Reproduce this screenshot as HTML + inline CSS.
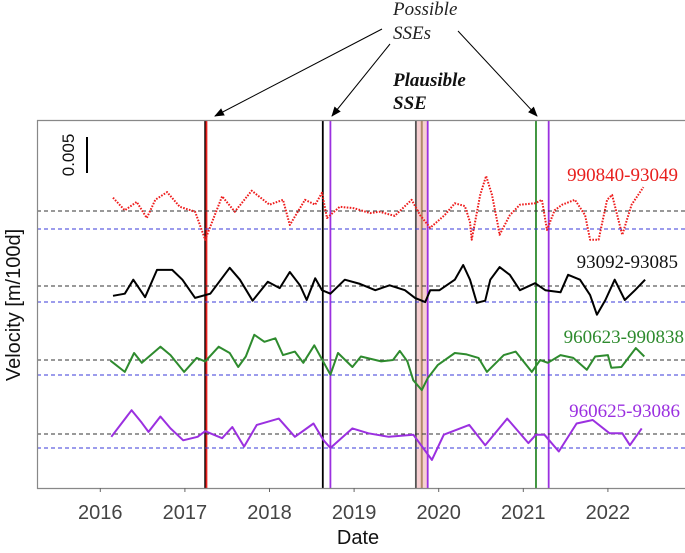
<!DOCTYPE html>
<html><head><meta charset="utf-8"><style>
html,body{margin:0;padding:0;background:#fff;}
svg{display:block;}
</style></head><body>
<svg id="chart" width="685" height="553" viewBox="0 0 685 553" xmlns="http://www.w3.org/2000/svg">
<defs><marker id="ah" markerWidth="10" markerHeight="8" refX="9" refY="4" orient="auto"><path d="M0,0 L10,4 L0,8 z" fill="#000"/></marker></defs>
<g id="vlines"></g>
<g id="plot"></g>
<line x1="37" y1="488.5" x2="685" y2="488.5" stroke="#888" stroke-width="1.2"/>
<line x1="37.5" y1="120" x2="37.5" y2="489" stroke="#888" stroke-width="1.2"/>
<line x1="37" y1="120.5" x2="685" y2="120.5" stroke="#888" stroke-width="1.2"/>
<g id="xticks"></g>
<text x="358" y="544" font-family="Liberation Sans, sans-serif" font-size="20" text-anchor="middle" fill="#111">Date</text>
<text transform="translate(20,305) rotate(-90)" font-family="Liberation Sans, sans-serif" font-size="20" text-anchor="middle" fill="#111">Velocity [m/100d]</text>
<line x1="87" y1="137" x2="87" y2="173" stroke="#000" stroke-width="2"/>
<text transform="translate(74,155) rotate(-90)" font-family="Liberation Sans, sans-serif" font-size="17" text-anchor="middle" fill="#111">0.005</text>
<text font-family="Liberation Serif, serif" font-style="italic" font-size="19" fill="#222"><tspan x="393" y="15">Possible</tspan><tspan x="393" y="39">SSEs</tspan></text>
<text font-family="Liberation Serif, serif" font-style="italic" font-weight="bold" font-size="19" fill="#111"><tspan x="393" y="86">Plausible</tspan><tspan x="393" y="109">SSE</tspan></text>
<line x1="382" y1="29" x2="215" y2="116" stroke="#000" stroke-width="1" marker-end="url(#ah)"/>
<line x1="390" y1="44" x2="332" y2="116" stroke="#000" stroke-width="1" marker-end="url(#ah)"/>
<line x1="458" y1="31" x2="537" y2="116" stroke="#000" stroke-width="1" marker-end="url(#ah)"/>
<g font-family="Liberation Serif, serif" font-size="19" text-anchor="end">
<text x="678" y="181" fill="#e8201e">990840-93049</text>
<text x="678" y="268" fill="#111">93092-93085</text>
<text x="684" y="343" fill="#2e8b2e">960623-990838</text>
<text x="680" y="417" fill="#9b30e0">960625-93086</text>
</g>
</svg>
<script>
const tickYears = [2016, 2017, 2018, 2019, 2020, 2021, 2022];
const redDates = [2016.15,2016.29,2016.43,2016.55,2016.65,2016.79,2016.94,2017.12,2017.24,2017.44,2017.59,2017.79,2018.00,2018.16,2018.24,2018.42,2018.54,2018.62,2018.68,2018.83,2019.00,2019.19,2019.30,2019.48,2019.68,2019.78,2019.90,2020.07,2020.19,2020.31,2020.37,2020.39,2020.49,2020.56,2020.63,2020.70,2020.72,2020.84,2020.96,2021.14,2021.22,2021.28,2021.37,2021.46,2021.61,2021.73,2021.79,2021.89,2021.99,2022.05,2022.14,2022.17,2022.28,2022.42];
const redValues = [1.9,0.1,1.3,-1.0,1.6,2.7,0.6,-0.1,-4.1,2.1,-0.1,2.9,0.9,1.6,-2.0,1.6,0.9,2.6,-1.0,0.6,0.4,-0.3,-0.1,-0.7,1.6,-0.6,-2.4,-0.6,1.1,0.7,-1.6,-4.1,2.3,5.0,2.3,-2.0,-3.4,-0.6,0.9,1.1,1.6,-2.7,0.1,0.9,1.6,-0.6,-4.1,-4.1,1.6,2.3,-2.0,-3.4,0.9,3.4];
const blackDates = [2016.15,2016.29,2016.39,2016.53,2016.67,2016.85,2016.97,2017.12,2017.30,2017.53,2017.65,2017.80,2017.98,2018.12,2018.24,2018.36,2018.44,2018.54,2018.62,2018.72,2018.89,2019.07,2019.25,2019.42,2019.60,2019.72,2019.84,2019.90,2020.01,2020.19,2020.29,2020.37,2020.45,2020.55,2020.61,2020.72,2020.84,2020.96,2021.14,2021.26,2021.44,2021.53,2021.67,2021.79,2021.87,2021.97,2022.08,2022.20,2022.32,2022.44];
const blackValues = [-1.4,-1.1,0.9,-1.6,2.3,2.3,0.9,-1.7,-1.1,2.6,0.9,-2.1,0.6,-0.3,2.0,0.1,-2.0,1.1,-0.6,-1.1,0.9,0.3,-0.6,0.1,-0.6,-1.7,-2.3,-0.6,-0.6,0.9,3.0,0.9,-2.4,-2.1,0.9,2.7,1.6,-0.6,0.4,-0.6,-0.9,1.6,0.9,-1.3,-4.1,-2.0,0.9,-2.0,-0.6,0.9];
const greenDates = [2016.12,2016.29,2016.40,2016.49,2016.71,2016.83,2016.99,2017.14,2017.24,2017.40,2017.53,2017.63,2017.72,2017.82,2017.94,2018.07,2018.16,2018.30,2018.40,2018.53,2018.72,2018.81,2018.98,2019.08,2019.32,2019.46,2019.54,2019.63,2019.70,2019.80,2019.87,2019.99,2020.19,2020.33,2020.47,2020.57,2020.77,2020.91,2021.10,2021.20,2021.29,2021.44,2021.59,2021.75,2021.85,2022.00,2022.04,2022.16,2022.33,2022.43];
const greenValues = [-0.1,-1.7,1.0,-0.4,1.9,0.7,-1.7,0.3,-0.2,1.9,1.0,-1.0,0.5,3.6,2.6,3.1,0.7,1.2,-0.4,2.1,-2.1,1.0,-1.0,0.5,-0.2,0,1.3,-0.2,-2.9,-4.3,-2.6,-0.7,1.0,0.8,0.3,-1.7,0.7,1.2,-1.7,0,-0.4,0.7,0.3,-1.4,0.5,0.7,-1.1,-1.0,1.7,0.5];
const purpleDates = [2016.13,2016.37,2016.49,2016.57,2016.71,2016.83,2016.98,2017.15,2017.24,2017.44,2017.56,2017.70,2017.85,2018.11,2018.30,2018.52,2018.64,2018.72,2018.98,2019.17,2019.41,2019.70,2019.92,2020.06,2020.36,2020.55,2020.81,2021.06,2021.15,2021.25,2021.42,2021.63,2021.82,2022.02,2022.17,2022.26,2022.40];
const purpleValues = [-0.4,3.4,1.6,0.3,2.5,0.8,-0.9,-0.4,0.4,-0.6,1.0,-1.8,1.3,2.2,-0.4,1.5,-0.9,-2.0,0.8,0.1,-0.4,-0.1,-3.7,-0.1,1.3,-1.6,2.2,-1.3,-0.1,-0.1,-2.5,1.5,2.0,0.1,0.1,-1.6,0.8];
const eventYears = [2017.24, 2017.255, 2018.63, 2018.72, 2019.73, 2019.87, 2021.15, 2021.30];
const eventColors = ['#000', '#e8201e', '#000', '#9b30e0', '#555', '#9b30e0', '#2e8b2e', '#9b30e0'];

const NS = 'http://www.w3.org/2000/svg';
function xs(yr){ return 100.3 + (yr - 2016) * 84.6; }
function ys(v, base){ return base - v * 7; }
function mk(tag, attrs){ const e = document.createElementNS(NS, tag); for (const k in attrs) e.setAttribute(k, attrs[k]); return e; }

const vl = document.getElementById('vlines');
const band = mk('rect', {x: xs(2019.73), y: 121, width: xs(2019.87) - xs(2019.73), height: 367, fill: '#f7cfd2'});


vl.appendChild(band);
const mid = mk('line', {x1: xs(2019.8), x2: xs(2019.8), y1: 121, y2: 488, stroke: '#b08a6a', 'stroke-width': 2});


vl.appendChild(mid);
eventYears.forEach((yr, i) => {
  const l = mk('line', {x1: xs(yr), x2: xs(yr), y1: 121, y2: 488, stroke: eventColors[i], 'stroke-width': 1.8});
  
  
  vl.appendChild(l);
});

const plot = document.getElementById('plot');
const series = [
  {d: redDates, v: redValues, base: 211, blue: 229, color: '#ee1c1c', dash: '1.6 1.4', name: 'series-990840-93049'},
  {d: blackDates, v: blackValues, base: 286, blue: 302, color: '#000', dash: '', name: 'series-93092-93085'},
  {d: greenDates, v: greenValues, base: 360, blue: 375, color: '#2e8b2e', dash: '', name: 'series-960623-990838'},
  {d: purpleDates, v: purpleValues, base: 434, blue: 448, color: '#9b30e0', dash: '', name: 'series-960625-93086'}
];
series.forEach(s => {
  const b1 = mk('line', {x1: 37, x2: 685, y1: s.base, y2: s.base, stroke: '#333', 'stroke-width': 1, 'stroke-dasharray': '4 3'});
  
  
  plot.appendChild(b1);
  const b2 = mk('line', {x1: 37, x2: 685, y1: s.blue, y2: s.blue, stroke: '#3a3ad8', 'stroke-width': 1, 'stroke-dasharray': '4 3'});
  
  
  plot.appendChild(b2);
  const pts = s.d.map((yr, i) => xs(yr).toFixed(1) + ',' + ys(s.v[i], s.base).toFixed(1)).join(' ');
  const pl = mk('polyline', {points: pts, fill: 'none', stroke: s.color, 'stroke-width': 2, 'stroke-linejoin': 'round'});
  if (s.dash) pl.setAttribute('stroke-dasharray', s.dash);
  
  
  plot.appendChild(pl);
});

const xt = document.getElementById('xticks');
tickYears.forEach(yr => {
  const t = mk('line', {x1: xs(yr), x2: xs(yr), y1: 488, y2: 492, stroke: '#666', 'stroke-width': 1});
  
  
  xt.appendChild(t);
  const lb = mk('text', {x: xs(yr), y: 519, 'font-family': 'Liberation Sans, sans-serif', 'font-size': 20, 'text-anchor': 'middle', fill: '#444'});
  lb.textContent = String(yr);
  
  
  xt.appendChild(lb);
});
</script>
</body></html>
